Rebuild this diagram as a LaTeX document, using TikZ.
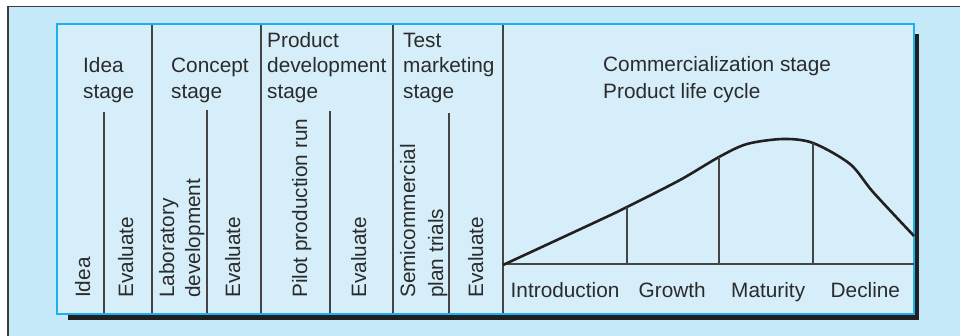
\documentclass[tikz,border=0pt]{standalone}
\usepackage{fontspec}
\setmainfont{Liberation Sans}
\definecolor{outerbg}{HTML}{C6E9F9}
\definecolor{innerbg}{HTML}{D6EEFA}
\definecolor{cyanline}{HTML}{1AB2EC}
\definecolor{frame}{HTML}{3C3C3C}
\definecolor{ink}{HTML}{2B2B2B}
\definecolor{rule}{HTML}{444444}
\definecolor{shadowcol}{HTML}{231F20}
\begin{document}
\begin{tikzpicture}[x=1pt, y=1pt,
    heading/.style ={anchor=base west, inner sep=0pt, text=ink,
                     font=\fontsize{20.8}{25}\selectfont},
    upright/.style ={heading, rotate=90},
    divider/.style ={draw=rule, line width=1.3pt},
    lifecurve/.style ={draw=shadowcol, line width=2.6pt, line join=round}]
   \clip (0,0) rectangle (960,336);
   % outer panel
   \fill[outerbg] (8,-5) rectangle (970,329.5);
   \draw[frame, line width=1.6pt] (8,-5) -- (8,329.5) -- (970,329.5);
   % shadow and inner panel
   \fill[shadowcol] (68,16) rectangle (919,302);
   \filldraw[fill=innerbg, draw=cyanline, line width=1.3pt] (57,22) rectangle (914,312);
   % stage columns
   \foreach \x in {152,261,393,503}
      \draw[divider] (\x,22.7) -- (\x,311.3);
   \foreach \x/\t in {104/224,207/226,330/225,449/223}
      \draw[divider] (\x,22.7) -- (\x,\t);
   % stage headings
   \node[heading] (idea1) at (83,263) {Idea};
   \node[heading] (idea2) at (83,237) {stage};
   \node[heading] (concept1) at (171,263) {Concept};
   \node[heading] (concept2) at (171,237) {stage};
   \node[heading] (product1) at (267,288) {Product};
   \node[heading] (product2) at (267,263) {development};
   \node[heading] (product3) at (267,237) {stage};
   \node[heading] (test1) at (403,288) {Test};
   \node[heading] (test2) at (403,263) {marketing};
   \node[heading] (test3) at (403,237) {stage};
   \node[heading] (comm1) at (603,264) {Commercialization stage};
   \node[heading] (comm2) at (603,237) {Product life cycle};
   % activities
   \node[upright] (idea) at (90,38) {Idea};
   \node[upright] (eval1) at (133,38) {Evaluate};
   \node[upright] (lab1) at (174,38) {Laboratory};
   \node[upright] (lab2) at (200,38) {development};
   \node[upright] (eval2) at (240,38) {Evaluate};
   \node[upright] (pilot) at (307,38) {Pilot production run};
   \node[upright] (eval3) at (366,38) {Evaluate};
   \node[upright] (semi1) at (415,38) {Semicommercial};
   \node[upright] (semi2) at (443,38) {plan trials};
   \node[upright] (eval4) at (483,38) {Evaluate};
   % product life cycle
   \coordinate (base) at (503,72);
   \coordinate (start) at (503,71);
   \coordinate (intro) at (627,129);
   \coordinate (growth) at (719,179);
   \coordinate (maturity) at (813,193);
   \coordinate (finish) at (914,100);
   \draw[divider] (base) -- (914,72);
   \draw[lifecurve] plot[smooth, tension=0.5] coordinates {(start) (600,116) (intro)
      (680,156) (growth) (747,192) (783,197) (maturity) (850,172) (873,144) (finish)};
   \foreach \p in {intro,growth,maturity}
      \draw[divider] (\p) -- (\p |- base);
   \node[heading] (introduction) at (510.5,38) {Introduction};
   \node[heading] (growthlabel) at (638.5,38) {Growth};
   \node[heading] (maturitylabel) at (731,38) {Maturity};
   \node[heading] (declinelabel) at (830.5,38) {Decline};
\end{tikzpicture}
\end{document}
